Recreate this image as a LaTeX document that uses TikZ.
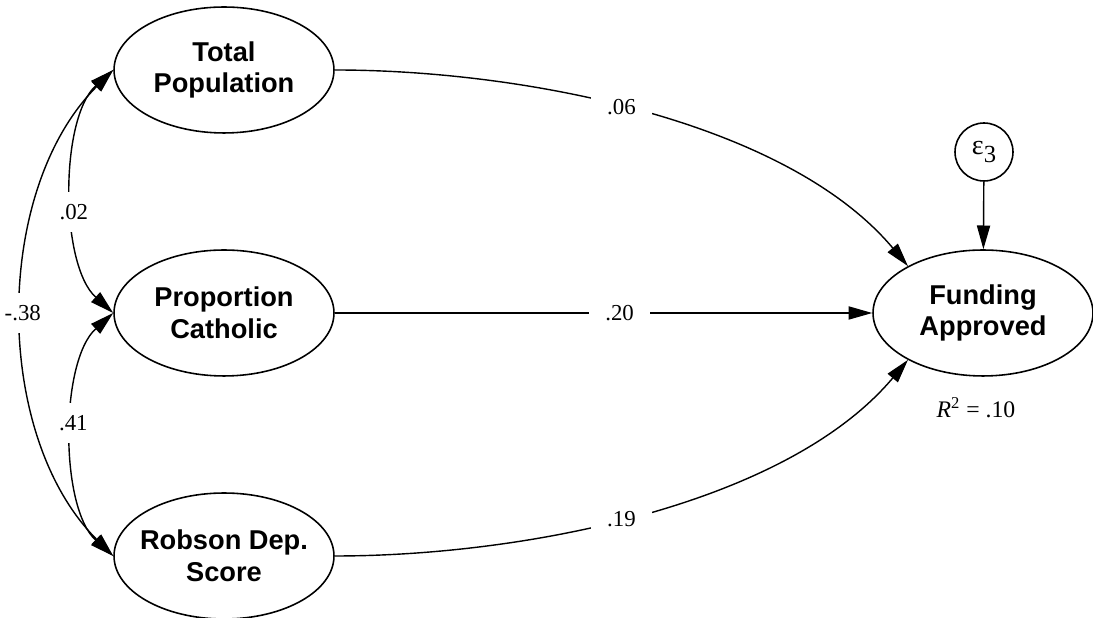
\documentclass[tikz,border=0pt]{standalone}
\usepackage{fontspec}
\setmainfont{Liberation Serif}
\setsansfont{Liberation Sans}
\usetikzlibrary{shapes.geometric,arrows.meta}
\tikzset{
    var/.style={ellipse,draw,line width=0.9pt,minimum width=4.4cm,minimum height=2.52cm,inner sep=0pt},
    varname/.style={font=\sffamily\bfseries\fontsize{15.5}{18}\selectfont,align=center},
    err/.style={circle,draw,line width=0.9pt,minimum size=1.16cm,inner sep=0pt,font=\fontsize{16}{18}\selectfont},
    coef/.style={fill=white,font=\fontsize{13}{15}\selectfont,inner xsep=0.33cm,inner ysep=0.25cm},
    reg/.style={-{Triangle[length=13.5pt,width=7.5pt]},line width=0.8pt},
    cov/.style={{Triangle[length=13.5pt,width=7.5pt]}-{Triangle[length=13.5pt,width=7.5pt]},line width=0.8pt},
  }
\begin{document}
\begin{tikzpicture}[x=0.02cm,y=0.02cm]
			          %cadre 1093x618 px, 1px = 0.02cm
			          %covariances : bend right + looseness, etiquettes sur fond blanc
				  \useasboundingbox (0,0) rectangle (1093,618);
				  \node[var,label={[varname]center:Total\\Population}] (tp) at (224,548) {};
				  \node[var,label={[varname]center:Proportion\\Catholic}] (pc) at (224,305) {};
				  \node[var,label={[varname]center:Robson Dep.\\Score}] (rds) at (224,62) {};
				  \node[var,label={[varname]center:Funding\\Approved}] (fa) at (983,305) {};
				  
				  \node[err] (e3) at (984,466) {ε\raisebox{-4pt}{\fontsize{14}{14}\selectfont 3}};
				  \node[font=\fontsize{13.5}{15}\selectfont] (r2) at (976,210) {\textit{R}\textsuperscript{2} = .10};
				  
				  \draw[reg] (tp.east) to[out=0,in=130,looseness=0.8] node[coef,pos=0.46]{.06} (fa.148);
				  \draw[reg] (pc) -- node[coef,pos=0.53]{.20} (fa);
				  \draw[reg] (rds.east) to[out=0,in=230,looseness=0.8] node[coef,pos=0.46]{.19} (fa.212);
				  \draw[reg] (e3) -- (fa);
				  
				  \draw[cov] (tp.west) to[bend right=48,looseness=0.76] node[coef,pos=0.57]{.02} (pc.west);
				  \draw[cov] (pc.west) to[bend right=48,looseness=0.76] node[coef,pos=0.46]{.41} (rds.west);
				  \draw[cov] (tp.west) to[bend right=45,looseness=0.9] node[coef,inner xsep=0.1cm]{-.38} (rds.west);
				  \end{tikzpicture}
\end{document}
